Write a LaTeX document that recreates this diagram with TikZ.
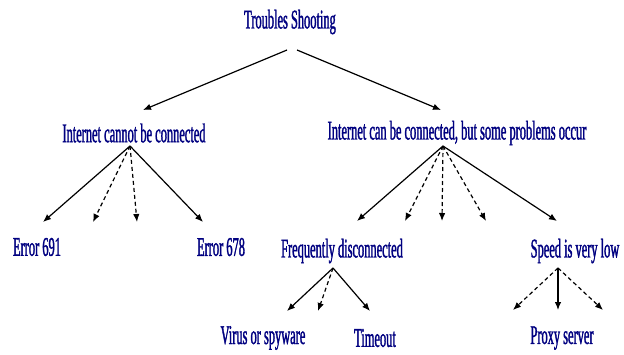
\documentclass[tikz,border=0pt]{standalone}
\usepackage{fontspec}
\newfontfamily\condserif[FakeStretch=0.46,FakeBold=1.2]{Liberation Serif}
\usetikzlibrary{arrows.meta}
\definecolor{tsnavy}{HTML}{000080}
\tikzset{
  lbl/.style={font=\condserif\fontsize{27}{27}\selectfont, text=tsnavy, inner sep=0pt},
  arr/.style={-{Latex[length=8pt,width=6.5pt]}, line width=1.2pt},
  darr/.style={arr, dash pattern=on 4pt off 3pt},
}

\begin{document}
\begin{tikzpicture}[x=1pt,y=-1pt]
\useasboundingbox (0,0) rectangle (624,354);
% labels
\node[lbl] (title)   at (290,22)  {Troubles Shooting};
\node[lbl] (nocon)   at (134,133) {Internet cannot be connected};
\node[lbl] (somecon) at (457,133) {Internet can be connected, but some problems occur};
\node[lbl] (e691)    at (37,247)  {Error 691};
\node[lbl] (e678)    at (221,247) {Error 678};
\node[lbl] (freq)    at (342,251) {Frequently disconnected};
\node[lbl] (speed)   at (575,251) {Speed is very low};
\node[lbl] (virus)   at (263,338) {Virus or spyware};
\node[lbl] (timeout) at (375,338) {Timeout};
\node[lbl] (proxy)   at (562,338) {Proxy server};

% apexes and arrow tips
\coordinate (titleL) at (287,50);
\coordinate (titleR) at (297,50);
\coordinate (noconA) at (130,146);
\coordinate (someA)  at (443,146);
\coordinate (freqA)  at (333,268);
\coordinate (speedA) at (558,268);

\draw[arr] (titleL) -- (143,110) coordinate (tL);
\draw[arr] (titleR) -- (441,110) coordinate (tR);

% level 2
\draw[arr]  (noconA) -- (43,222)  coordinate (t691);
\draw[darr] (noconA) -- (93,222)  coordinate (tn1);
\draw[darr] (noconA) -- (137,222) coordinate (tn2);
\draw[arr]  (noconA) -- (203,222) coordinate (t678);

\draw[arr]  (someA) -- (357,221) coordinate (tfreq);
\foreach \x/\n in {405/1,442/2,486/3}
  \draw[darr] (someA) -- (\x,221) coordinate (ts\n);
\draw[arr]  (someA) -- (557,221) coordinate (tspeed);

% level 3
\draw[arr]  (freqA) -- (287,311) coordinate (tvirus);
\draw[darr] (freqA) -- (318,311) coordinate (tf1);
\draw[arr]  (freqA) -- (370,311) coordinate (ttime);

\draw[darr] (speedA) -- (513,310) coordinate (tp1);
\draw[arr]  (speedA) -- (558,310) coordinate (tproxy);
\draw[darr] (speedA) -- (603,310) coordinate (tp2);
\end{tikzpicture}
\end{document}
